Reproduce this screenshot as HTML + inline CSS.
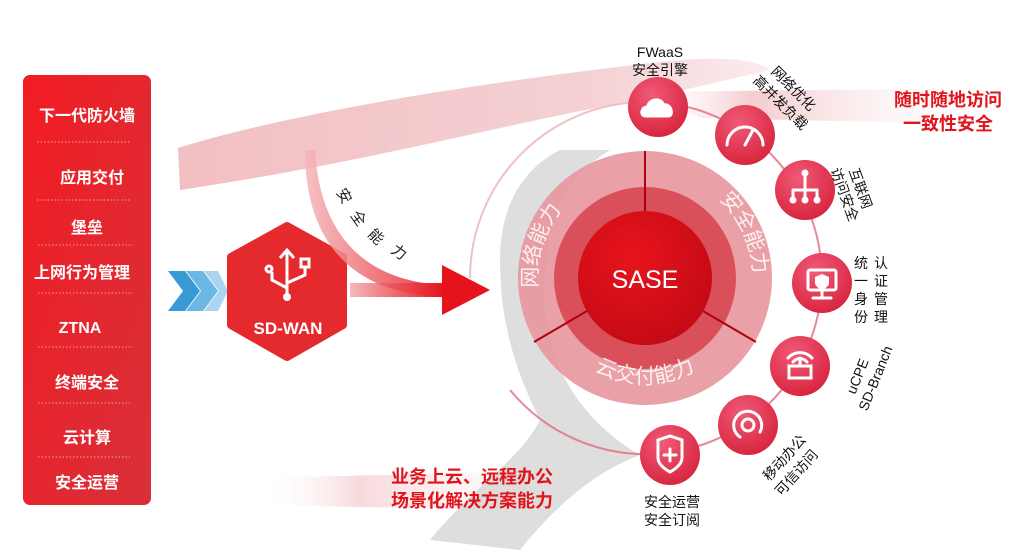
<!DOCTYPE html>
<html><head><meta charset="utf-8"><style>
html,body{margin:0;padding:0;background:#fff;}
body{width:1033px;height:550px;overflow:hidden;font-family:"Liberation Sans","Noto Sans CJK SC",sans-serif;}
</style></head><body>
<svg width="1033" height="550" viewBox="0 0 1033 550" xmlns="http://www.w3.org/2000/svg" font-family="Liberation Sans, Noto Sans CJK SC, sans-serif">
<defs>
<linearGradient id="pnl" x1="0" y1="0" x2="1" y2="1"><stop offset="0" stop-color="#f21c22"/><stop offset="1" stop-color="#d8303a"/></linearGradient>
<radialGradient id="core" cx="0.4" cy="0.35" r="0.7"><stop offset="0" stop-color="#e8141c"/><stop offset="1" stop-color="#c20a14"/></radialGradient>
<radialGradient id="ic" cx="0.4" cy="0.3" r="0.8"><stop offset="0" stop-color="#f05a78"/><stop offset="1" stop-color="#d51f38"/></radialGradient>
<linearGradient id="arr" x1="0" y1="0" x2="1" y2="0"><stop offset="0" stop-color="#f5b8bc"/><stop offset="1" stop-color="#e5141c"/></linearGradient>
<linearGradient id="brush" x1="0" y1="0" x2="1" y2="0"><stop offset="0" stop-color="#f0b8bc"/><stop offset="0.7" stop-color="#f4cccf"/><stop offset="1" stop-color="#fbeaeb"/></linearGradient>
<linearGradient id="brush2" x1="0" y1="0" x2="1" y2="0"><stop offset="0" stop-color="#fff" stop-opacity="0"/><stop offset="0.3" stop-color="#f2c0c4"/><stop offset="1" stop-color="#fff" stop-opacity="0"/></linearGradient>
<path id="arcL" d="M 539 297 A 108 108 0 0 1 645 170"/>
<path id="arcR" d="M 714 195 A 108 108 0 0 1 745 320"/>
<path id="arcB" d="M 560 340 A 105 105 0 0 0 730 340"/>
</defs>
<path d="M178 148 C 300 110, 500 80, 660 62 C 720 55, 760 60, 770 70 L 640 100 C 520 120, 380 160, 180 190 Z" fill="url(#brush)" opacity="0.9"/>
<path d="M640 92 L 1000 88 L 1010 125 L 700 118 Z" fill="url(#brush2)" opacity="0.8"/>
<path d="M260 478 L 590 470 L 590 512 L 270 505 Z" fill="url(#brush2)" opacity="0.6"/>
<path d="M560 150 C 520 170, 500 210, 500 260 C 500 330, 520 380, 540 420 C 520 460, 470 490, 430 540 L 520 550 C 560 500, 600 470, 640 455 C 580 420, 540 360, 545 280 C 548 210, 570 175, 610 150 Z" fill="#c8c8c8" opacity="0.6"/>
<rect x="23" y="75" width="128" height="430" rx="7" fill="url(#pnl)"/>
<g fill="#fff" font-weight="bold" font-size="16" text-anchor="middle">
<text x="87" y="121">下一代防火墙</text>
<text x="92" y="183">应用交付</text>
<text x="87" y="233">堡垒</text>
<text x="82" y="278">上网行为管理</text>
<text x="80" y="333">ZTNA</text>
<text x="87" y="388">终端安全</text>
<text x="87" y="443">云计算</text>
<text x="87" y="488">安全运营</text>
</g>
<g stroke="#f7a0a4" stroke-width="1" stroke-dasharray="1.5 2">
<line x1="37" y1="142" x2="130" y2="142"/><line x1="37" y1="200" x2="130" y2="200"/>
<line x1="38" y1="245" x2="133" y2="245"/><line x1="38" y1="293" x2="133" y2="293"/>
<line x1="38" y1="347" x2="133" y2="347"/><line x1="38" y1="403" x2="130" y2="403"/>
<line x1="38" y1="457" x2="130" y2="457"/>
</g>
<g>
<path d="M168 271 L185 271 L200 291 L185 311 L168 311 L183 291 Z" fill="#3a9ad6"/>
<path d="M186 271 L203 271 L218 291 L203 311 L186 311 L201 291 Z" fill="#6db7e6"/>
<path d="M204 271 L218 271 L228 291 L218 311 L204 311 L219 291 Z" fill="#a9d5f1"/>
</g>
<path d="M287 226 L343 257 L343 325 L287 357 L231 325 L231 257 Z" fill="#e52a2e" stroke="#e52a2e" stroke-width="8" stroke-linejoin="round"/>
<g stroke="#fff" stroke-width="3" fill="none">
<line x1="287" y1="250" x2="287" y2="295"/><path d="M280 258 L287 250 L294 258"/>
<path d="M287 288 L272 280 L272 272"/><circle cx="269" cy="269" r="3"/>
<path d="M287 283 L305 275 L305 267"/><rect x="301" y="259" width="8" height="8"/>
</g>
<circle cx="287" cy="297" r="4" fill="#fff"/>
<text x="288" y="334" fill="#fff" font-weight="bold" font-size="17" text-anchor="middle">SD-WAN</text>
<rect x="350" y="283" width="95" height="14" fill="url(#arr)"/>
<path d="M315 150 C 320 240, 370 282, 445 285 L 445 297 C 360 295, 305 250, 305 150 Z" fill="url(#arr)" opacity="0.85"/>
<path d="M442 265 L490 290 L442 315 Z" fill="#e5141c"/>
<g font-size="15" fill="#222">
<text transform="translate(336,192) rotate(60)">安</text>
<text transform="translate(350,215) rotate(55)">全</text>
<text transform="translate(367,235) rotate(45)">能</text>
<text transform="translate(390,252) rotate(35)">力</text>
</g>
<path d="M 470 278 A 176 176 0 0 1 645 102" fill="none" stroke="#f0c0c4" stroke-width="2"/>
<path d="M 645 102 A 176 176 0 1 1 510 390" fill="none" stroke="#e06a7a" stroke-width="2" opacity="0.8"/>
<circle cx="645" cy="278" r="127" fill="#e8969d" opacity="0.9"/>
<circle cx="645" cy="278" r="91" fill="#d9505a"/>
<circle cx="645" cy="278" r="67" fill="url(#core)"/>
<g stroke="#b00010" stroke-width="2">
<line x1="645" y1="151" x2="645" y2="211"/>
<line x1="534" y1="342" x2="587" y2="311"/>
<line x1="756" y1="342" x2="703" y2="311"/>
</g>
<text x="645" y="288" fill="#fff" font-size="25" text-anchor="middle">SASE</text>
<g fill="#fff" fill-opacity="0.85" font-size="21">
<text><textPath href="#arcL" startOffset="5%">网络能力</textPath></text>
<text><textPath href="#arcR" startOffset="5%">安全能力</textPath></text>
<text><textPath href="#arcB" startOffset="50%" text-anchor="middle">云交付能力</textPath></text>
</g>
<g fill="url(#ic)">
<circle cx="658" cy="107" r="30"/><circle cx="745" cy="135" r="30"/>
<circle cx="805" cy="190" r="30"/><circle cx="822" cy="283" r="30"/>
<circle cx="800" cy="366" r="30"/><circle cx="748" cy="425" r="30"/>
<circle cx="670" cy="455" r="30"/>
</g>
<g stroke="#fff" stroke-width="3" fill="none" stroke-linecap="round">
<path d="M646 117 C 638 117, 640 106, 647 106 C 648 98, 662 96, 664 104 C 672 102, 676 117, 668 117 Z" fill="#fff" stroke-width="1"/>
<path d="M727 145 A 18 18 0 1 1 763 145"/>
<line x1="745" y1="145" x2="753" y2="130"/>
<line x1="805" y1="176" x2="805" y2="190"/><line x1="793" y1="190" x2="817" y2="190"/>
<line x1="793" y1="190" x2="793" y2="198"/><line x1="805" y1="190" x2="805" y2="198"/><line x1="817" y1="190" x2="817" y2="198"/>
<rect x="808" y="270" width="28" height="20" rx="2"/><line x1="822" y1="290" x2="822" y2="297"/><line x1="813" y1="298" x2="831" y2="298"/>
<rect x="789" y="366" width="22" height="12"/><line x1="800" y1="366" x2="800" y2="358"/>
<path d="M788 358 A 16 16 0 0 1 812 358"/><path d="M793 362 A 9 9 0 0 1 807 362"/>
<path d="M760 432 A 14 14 0 1 0 740 437"/><circle cx="748" cy="425" r="6"/>
<path d="M658 440 L670 436 L682 440 L682 458 C 682 466, 670 472, 670 472 C 670 472, 658 466, 658 458 Z"/>
<line x1="670" y1="449" x2="670" y2="461"/><line x1="664" y1="455" x2="676" y2="455"/>
</g>
<circle cx="805" cy="173" r="3.5" fill="#fff"/><circle cx="793" cy="200" r="3.5" fill="#fff"/><circle cx="805" cy="200" r="3.5" fill="#fff"/><circle cx="817" cy="200" r="3.5" fill="#fff"/>
<path d="M822 274 L829 277 L829 283 C829 287 822 290 822 290 C822 290 815 287 815 283 L815 277 Z" fill="#fff"/>
<g fill="#111" font-size="14" text-anchor="middle">
<text x="660" y="57">FWaaS</text>
<text x="660" y="75">安全引擎</text>
<text transform="translate(790,92) rotate(45)">网络优化</text>
<text transform="translate(777,106) rotate(45)">高并发负载</text>
<text transform="translate(856,190) rotate(70)">互联网</text>
<text transform="translate(840,196) rotate(70)">访问安全</text>
<text transform="translate(862,378) rotate(-68)">uCPE</text>
<text transform="translate(880,380) rotate(-68)">SD-Branch</text>
<text transform="translate(788,461) rotate(-48)">移动办公</text>
<text transform="translate(800,476) rotate(-48)">可信访问</text>
<text x="672" y="507">安全运营</text>
<text x="672" y="525">安全订阅</text>
<text x="861" y="268">统</text><text x="861" y="286">一</text><text x="861" y="304">身</text><text x="861" y="322">份</text>
<text x="881" y="268">认</text><text x="881" y="286">证</text><text x="881" y="304">管</text><text x="881" y="322">理</text>
</g>
<g fill="#e0141c" font-weight="bold" font-size="18" text-anchor="middle">
<text x="948" y="106">随时随地访问</text>
<text x="948" y="130">一致性安全</text>
<text x="472" y="483">业务上云、远程办公</text>
<text x="472" y="507">场景化解决方案能力</text>
</g>
</svg>
</body></html>
